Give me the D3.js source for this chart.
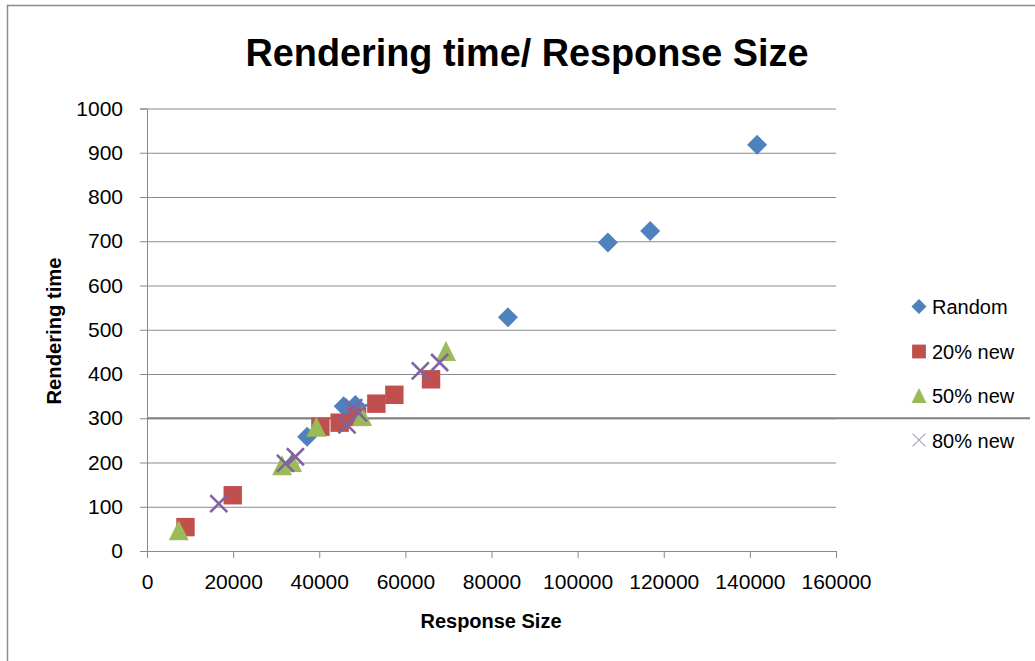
<!DOCTYPE html>
<html>
<head>
<meta charset="utf-8">
<script src="https://cdn.jsdelivr.net/npm/d3@7"></script>
<style>
  html, body { margin: 0; padding: 0; background: #fff; }
  svg { display: block; }
  text { font-family: "Liberation Sans", Arial, sans-serif; fill: #000; }
</style>
</head>
<body>
<svg id="chart" width="1035" height="661"></svg>
<script>
// Response size (bytes) vs rendering time (ms) for each change ratio
const randomX = [37180, 45670, 48390, 83820, 107030, 116850, 141680];
const randomY = [258, 327, 330, 528, 697, 723, 918];

const new20X = [8935, 19910, 40270, 44740, 48780, 53260, 57440, 65960];
const new20Y = [54, 126, 281, 290, 303, 333, 353, 388];

const new50X = [7380, 31370, 33700, 39340, 49940, 69430];
const new50Y = [47, 194, 201, 281, 305, 452];

const new80X = [16670, 32140, 34460, 46460, 48000, 49150, 63470, 67950];
const new80Y = [107, 198, 213, 285, 324, 312, 407, 426];

const seriesNames = ["Random", "20% new", "50% new", "80% new"];
const seriesColors = ["#4F81BD", "#C0504D", "#9BBB59", "#8064A2"];
const seriesShapes = ["diamond", "square", "triangle", "cross"];

const xTicks = [0, 20000, 40000, 60000, 80000, 100000, 120000, 140000, 160000];
const yTicks = [0, 100, 200, 300, 400, 500, 600, 700, 800, 900, 1000];

const series = [
  { x: randomX, y: randomY },
  { x: new20X, y: new20Y },
  { x: new50X, y: new50Y },
  { x: new80X, y: new80Y }
].map((s, i) => ({
  name: seriesNames[i],
  color: seriesColors[i],
  shape: seriesShapes[i],
  points: s.x.map((v, j) => ({ x: v, y: s.y[j] }))
}));

const svg = d3.select("#chart");

const plotLeft = 147, plotRight = 836, plotTop = 108.5, plotBottom = 551;
const x = d3.scaleLinear().domain([0, 160000]).range([plotLeft, plotRight]);
const y = d3.scaleLinear().domain([0, 1000]).range([plotBottom, plotTop]);

// outer chart frame
svg.append("rect")
  .attr("x", 7.5).attr("y", 5.5)
  .attr("width", 1100).attr("height", 700)
  .attr("fill", "none").attr("stroke", "#8c8c8c").attr("stroke-width", 1.5);

// title
svg.append("text")
  .attr("x", 527).attr("y", 66)
  .attr("text-anchor", "middle")
  .attr("font-size", 39).attr("font-weight", "bold")
  .attr("textLength", 563).attr("lengthAdjust", "spacingAndGlyphs")
  .text("Rendering time/ Response Size");

// horizontal gridlines
const grid = svg.append("g")
  .attr("transform", `translate(${plotLeft},0)`)
  .call(d3.axisLeft(y).tickValues(yTicks).tickSize(-(plotRight - plotLeft)).tickFormat(""));
grid.select(".domain").remove();
grid.selectAll(".tick line").attr("stroke", "#8a8a8a").attr("stroke-width", 1);

// the 300 line is drawn heavier and runs across to the frame edge
svg.append("line")
  .attr("x1", plotLeft).attr("x2", 1030)
  .attr("y1", y(300)).attr("y2", y(300))
  .attr("stroke", "#808080").attr("stroke-width", 2);

// y axis
const yAxis = svg.append("g")
  .attr("transform", `translate(${plotLeft},0)`)
  .call(d3.axisLeft(y).tickValues(yTicks).tickSize(7).tickPadding(17).tickFormat(d3.format("d")));
yAxis.select(".domain").attr("stroke", "#8a8a8a");
yAxis.selectAll(".tick line").attr("stroke", "#8a8a8a");
yAxis.selectAll("text")
  .attr("font-size", 21).attr("font-family", "Liberation Sans, Arial, sans-serif")
  .attr("fill", "#000");

// x axis
const xAxis = svg.append("g")
  .attr("transform", `translate(0,${plotBottom})`)
  .call(d3.axisBottom(x).tickValues(xTicks).tickSize(7).tickPadding(16).tickFormat(d3.format("d")));
xAxis.select(".domain").attr("stroke", "#8a8a8a");
xAxis.selectAll(".tick line").attr("stroke", "#8a8a8a");
xAxis.selectAll("text")
  .attr("font-size", 21).attr("font-family", "Liberation Sans, Arial, sans-serif")
  .attr("fill", "#000");

// axis titles
svg.append("text")
  .attr("x", 491).attr("y", 628)
  .attr("text-anchor", "middle")
  .attr("font-size", 20).attr("font-weight", "bold")
  .attr("textLength", 141).attr("lengthAdjust", "spacingAndGlyphs")
  .text("Response Size");

svg.append("text")
  .attr("transform", "translate(61,331) rotate(-90)")
  .attr("text-anchor", "middle")
  .attr("font-size", 20).attr("font-weight", "bold")
  .attr("textLength", 147).attr("lengthAdjust", "spacingAndGlyphs")
  .text("Rendering time");

// marker drawing
function drawMarker(g, shape, color, s, thin) {
  if (shape === "diamond") {
    g.append("path").attr("d", `M0,${-s}L${s},0L0,${s}L${-s},0Z`).attr("fill", color);
  } else if (shape === "square") {
    const h = s * 0.92;
    g.append("rect").attr("x", -h).attr("y", -h).attr("width", 2 * h).attr("height", 2 * h).attr("fill", color);
  } else if (shape === "triangle") {
    g.append("path").attr("d", `M0,${-s}L${s},${s}L${-s},${s}Z`).attr("fill", color);
  } else {
    const h = s * 0.85;
    g.append("path").attr("d", `M${-h},${-h}L${h},${h}M${-h},${h}L${h},${-h}`)
      .attr("stroke", thin ? "#B3A2C7" : color).attr("stroke-width", thin ? 1.3 : 2.6)
      .attr("fill", "none");
  }
}

// data points
series.forEach(s => {
  const g = svg.append("g").attr("class", "series");
  s.points.forEach(p => {
    const m = g.append("g").attr("transform", `translate(${x(p.x)},${y(p.y)})`);
    drawMarker(m, s.shape, s.color, 10, false);
  });
});

// legend
const legendY = [306.5, 351.5, 395.5, 440];
series.forEach((s, i) => {
  const g = svg.append("g").attr("transform", `translate(919,${legendY[i]})`);
  drawMarker(g, s.shape, s.color, 7.5, true);
  g.append("text")
    .attr("x", 13).attr("y", 7.5)
    .attr("font-size", 20)
    .text(s.name);
});
</script>
</body>
</html>
